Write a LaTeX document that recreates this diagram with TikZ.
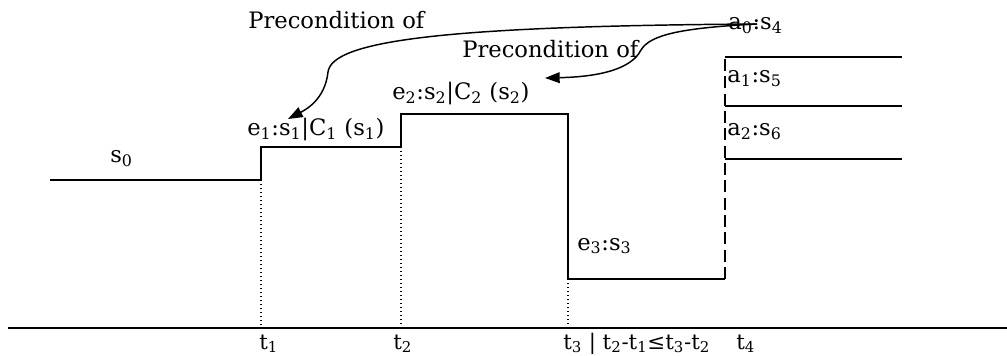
\documentclass[tikz,border=0pt]{standalone}
\usepackage{fontspec}
\setmainfont{DejaVu Serif}
\usetikzlibrary{arrows.meta}
\newcommand{\sub}[1]{\textsubscript{#1}}

\begin{document}
\begin{tikzpicture}[x=0.75pt,y=-0.75pt,
    lbl/.style={font=\fontsize{17}{20}\selectfont, inner sep=0pt, anchor=base west},
    tlbl/.style={lbl, font=\fontsize{16}{19}\selectfont},
    sig/.style={line width=1.4pt},
    guide/.style={dotted, line width=1pt},
    precond/.style={line width=1.1pt, -{Triangle[length=11pt,width=8pt]}}]
  \useasboundingbox (0,0) rectangle (1007,356);
  % time axis and signal levels
  \draw[sig] (8,328) -- (1007,328);
  \draw[sig] (50,180) -- (261,180) -- (261,147) -- (401,147) -- (401,114)
    -- (568,114) -- (568,279) -- (725,279);
  \draw[sig, dash pattern=on 9pt off 4pt] (725,279) -- (725,57);
  \foreach \y in {57,106,159}
    \draw[sig] (725,\y) -- (902,\y);
  \draw[guide] (261,180) -- (261,328);
  \draw[guide] (401,147) -- (401,328);
  \draw[guide] (568,279) -- (568,328);
  % labels
  \node[lbl] (s0) at (110,163) {s\sub{0}};
  \node[lbl] (e1) at (247,136) {e\sub{1}:s\sub{1}|C\sub{1} (s\sub{1})};
  \node[lbl] (e2) at (392,100) {e\sub{2}:s\sub{2}|C\sub{2} (s\sub{2})};
  \node[lbl] (e3) at (577,250) {e\sub{3}:s\sub{3}};
  \node[lbl] (a0) at (728,30) {a\sub{0}:s\sub{4}};
  \node[lbl] (a1) at (727,83) {a\sub{1}:s\sub{5}};
  \node[lbl] (a2) at (727,136) {a\sub{2}:s\sub{6}};
  \node[lbl] (pre1) at (248,29) {Precondition of};
  \node[lbl] (pre2) at (462,58) {Precondition of};
  \node[tlbl] (t1) at (259,349) {t\sub{1}};
  \node[tlbl] (t2) at (393,349) {t\sub{2}};
  \node[tlbl] (t3) at (563,349) {t\sub{3} | t\sub{2}-t\sub{1}≤t\sub{3}-t\sub{2}};
  \node[tlbl] (t4) at (736,349) {t\sub{4}};
  % precondition arrows
  \coordinate (src) at (757,24);
  \coordinate (tip1) at (288,119);
  \coordinate (tip2) at (545,78);
  \draw[precond] (src) .. controls (450,26) and (332,40) .. (328,72)
    .. controls (325,100) and (305,110) .. (tip1);
  \draw[precond] (src) .. controls (680,28) and (650,35) .. (641,50)
    .. controls (630,72) and (590,77) .. (tip2);
\end{tikzpicture}
\end{document}
